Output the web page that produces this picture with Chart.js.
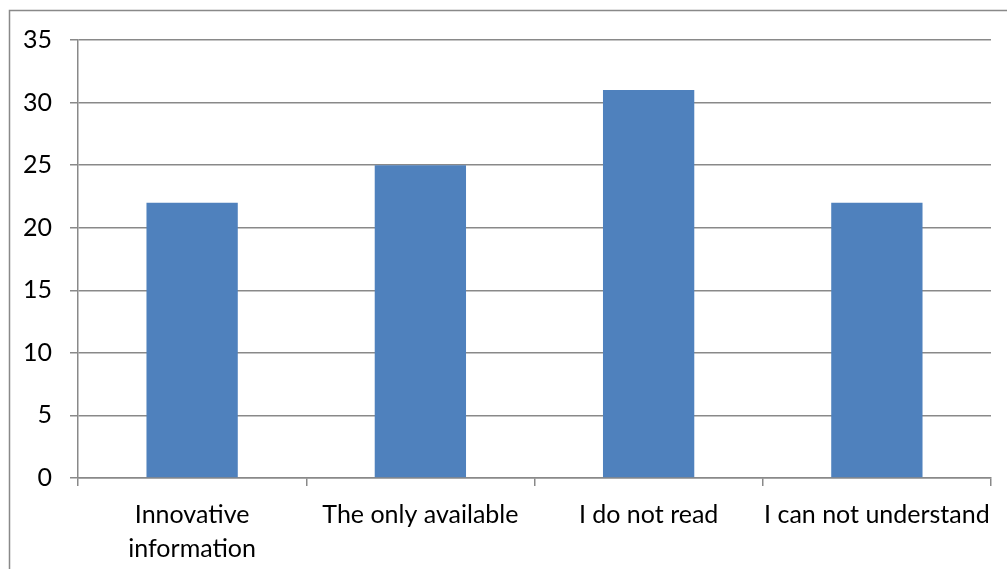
<!DOCTYPE html>
<html>
<head>
<meta charset="utf-8">
<script src="https://cdn.jsdelivr.net/npm/chart.js@4"></script>
<style>
  html, body { margin: 0; padding: 0; background: #fff; }
  #wrap { position: relative; width: 1007px; height: 569px; }
</style>
</head>
<body>
<div id="wrap"><canvas id="c" width="1007" height="569"></canvas></div>
<script>
// Survey responses per reason
const categories = [['Innovative', 'information'], 'The only available', 'I do not read', 'I can not understand'];
const responses = [22, 25, 31, 22];
const yTicks = [0, 5, 10, 15, 20, 25, 30, 35];

const gridGray = '#898989';
const fontSpec = { family: 'Lato, Carlito, Calibri, sans-serif', size: 25, lineHeight: 1.36 };

// Frame line along the left and top edges of the chart box
const framePlugin = {
  id: 'frame',
  beforeDraw(chart) {
    const ctx = chart.ctx;
    ctx.save();
    ctx.strokeStyle = gridGray;
    ctx.lineWidth = 1.5;
    ctx.beginPath();
    ctx.moveTo(9.5, chart.height);
    ctx.lineTo(9.5, 10.5);
    ctx.lineTo(chart.width, 10.5);
    ctx.stroke();
    ctx.restore();
  }
};

new Chart(document.getElementById('c'), {
  type: 'bar',
  data: {
    labels: categories,
    datasets: [{
      data: responses,
      backgroundColor: '#4F81BD',
      borderWidth: 0,
      categoryPercentage: 0.4,
      barPercentage: 1.0
    }]
  },
  options: {
    responsive: false,
    animation: false,
    layout: { padding: { top: 40, right: 16, left: 0, bottom: 0 } },
    plugins: { legend: { display: false }, tooltip: { enabled: false } },
    scales: {
      x: {
        grid: {
          display: true,
          drawOnChartArea: false,
          drawTicks: true,
          tickLength: 8,
          color: gridGray,
          lineWidth: 1.5,
          offset: true
        },
        border: { color: gridGray, width: 1.5 },
        ticks: {
          color: '#000',
          font: fontSpec,
          maxRotation: 0,
          minRotation: 0,
          autoSkip: false,
          padding: 12
        },
        afterFit(scale) { scale.height = 91; }
      },
      y: {
        min: 0,
        max: 35,
        afterBuildTicks(scale) { scale.ticks = yTicks.map(v => ({ value: v })); },
        grid: {
          color: gridGray,
          lineWidth: 1.5,
          tickLength: 8
        },
        border: { color: gridGray, width: 1.5 },
        ticks: {
          color: '#000',
          font: fontSpec,
          padding: 18
        },
        afterFit(scale) { scale.width = 78; }
      }
    }
  },
  plugins: [framePlugin]
});
</script>
</body>
</html>
